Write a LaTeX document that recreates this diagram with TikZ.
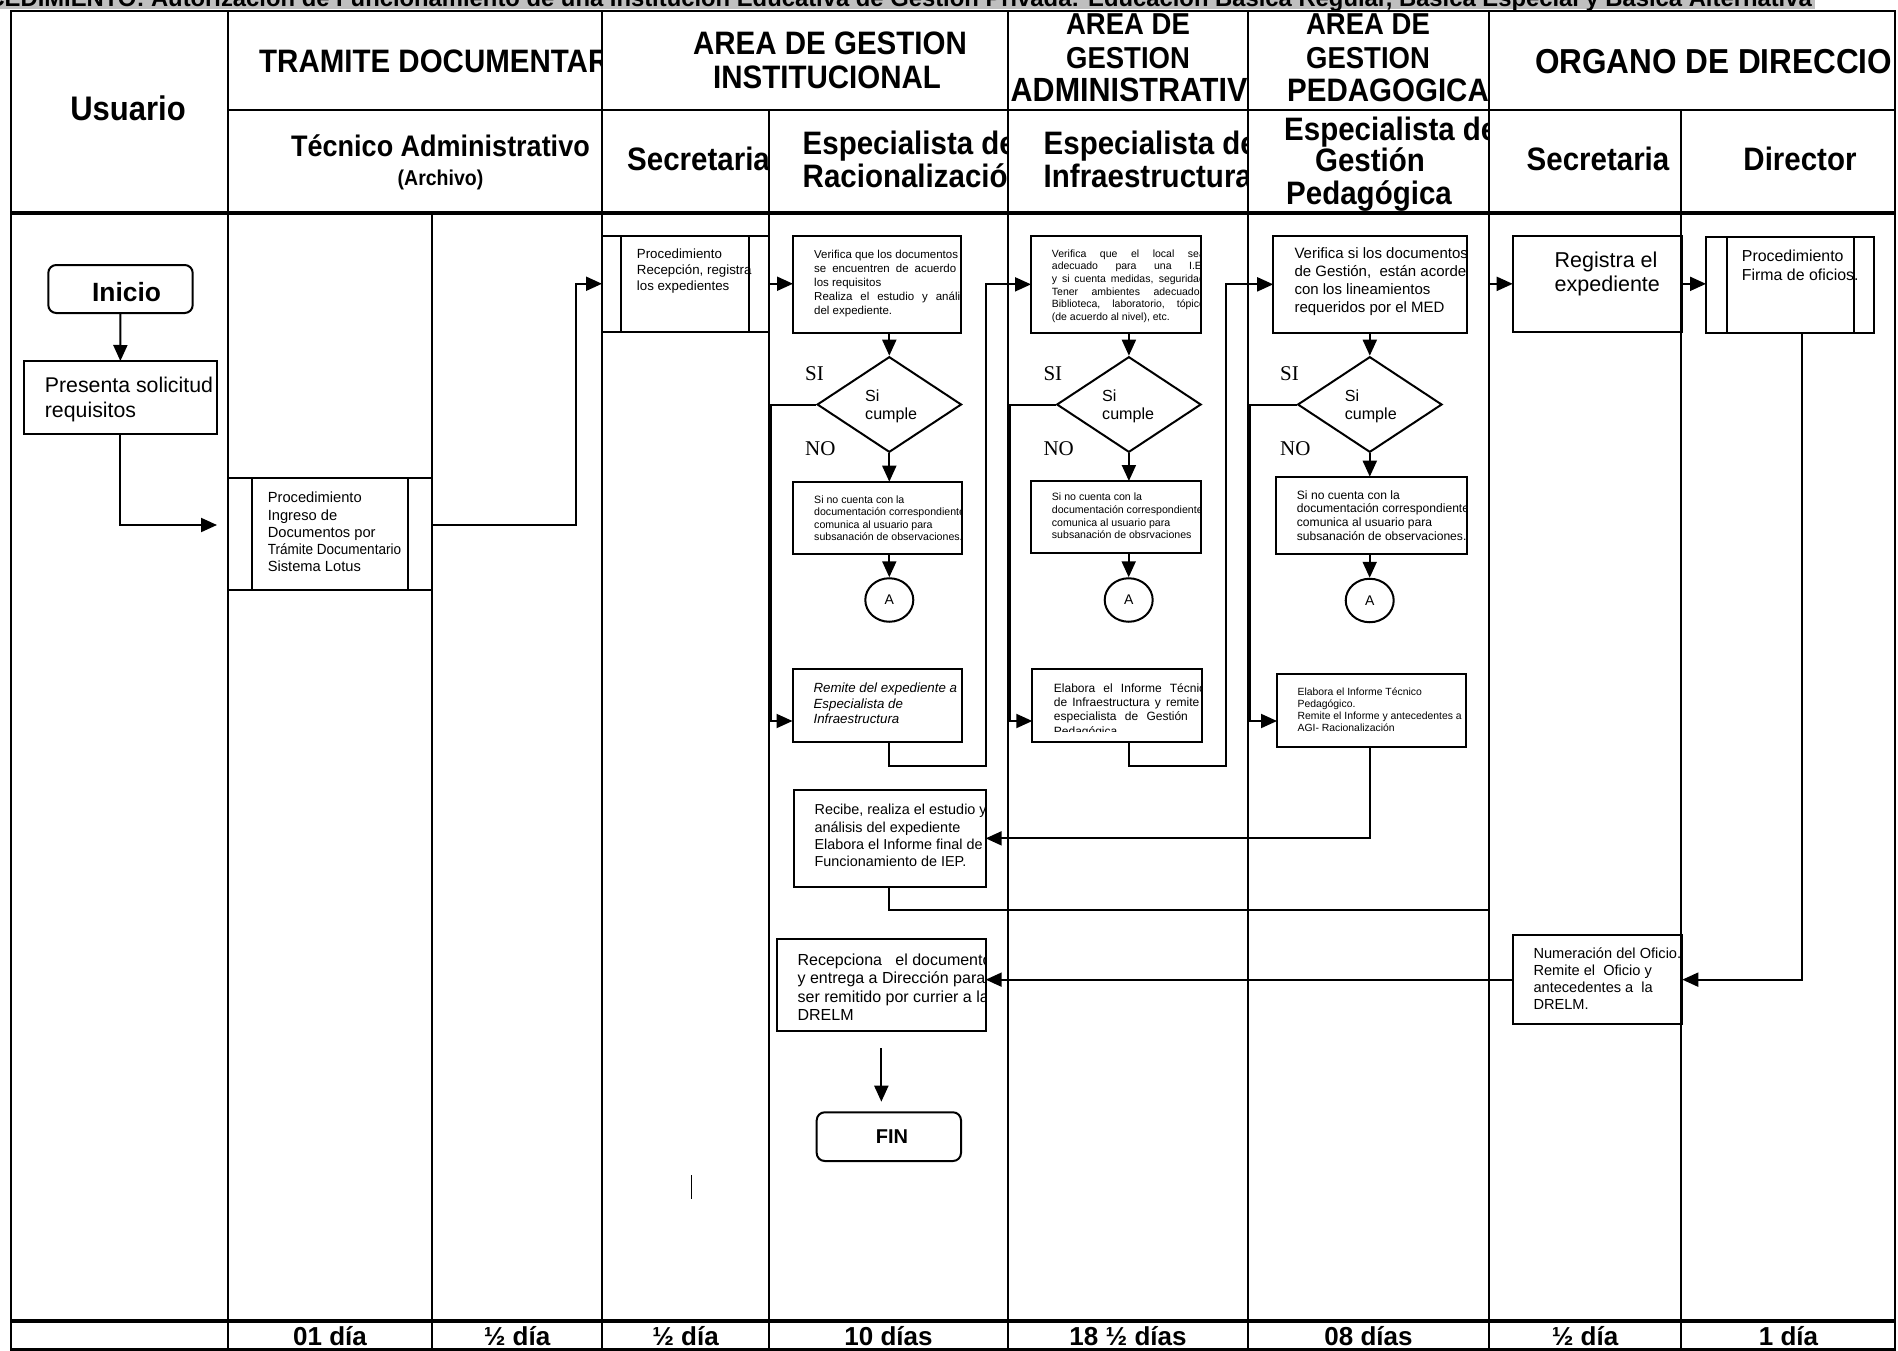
\documentclass[tikz,border=0pt]{standalone}
\usepackage{fontspec}
\usepackage{graphicx}
\setmainfont{Liberation Sans}
\newfontfamily\tnr{Liberation Serif}
\usetikzlibrary{arrows.meta,shapes.geometric}
\newcommand\fs[2]{\fontsize{#1pt}{#2pt}\selectfont}
\newcommand\nl{\\\strut}
\newcommand\tb[7][]{\node[tx,font={#1\fs{#5}{#6}}] (#2) at (#3,{#4-0.7*#6}) {\strut #7};}
\newcommand\jl[2]{\makebox[#1pt][s]{#2}}
\newcommand\hh[1]{\scalebox{1}[1.1]{#1}}
\newcommand\inbox[2]{\begin{scope}\clip (#1.south west) rectangle (#1.north east); #2\end{scope}}
\begin{document}
\begin{tikzpicture}[x=1pt,y=-1pt,
  tbl/.style={line width=2.2pt},
  tblk/.style={line width=3.6pt},
  box/.style={draw, rectangle, line width=2pt, inner sep=0pt, outer sep=0pt},
  rbox/.style={box, rounded corners=8pt},
  conn/.style={line width=2pt},
  arr/.style={line width=2pt, -{Triangle[length=16pt,width=14pt]}},
  tx/.style={anchor=north west, inner sep=0pt, align=left},
  hd/.style={inner sep=0pt, font=\bfseries\fs{29.5}{34}},
  lbl/.style={inner sep=0pt, font=\tnr\fs{21}{24}, anchor=base west},
  dmd/.style={diamond, draw, line width=2pt, minimum width=144.4, minimum height=95.6, inner sep=0pt},
  circA/.style={ellipse, draw, line width=2pt, minimum width=48, minimum height=43.5, inner sep=0pt, font=\fs{14}{16}},
  ftx/.style={inner sep=0pt, anchor=base, font=\bfseries\fs{26}{28}}]
\useasboundingbox (0,0) rectangle (1898,1351);
\fill[white] (0,0) rectangle (1898,1351);
% title band
\fill[gray!50] (0,0) rectangle (1815,9);
\begin{scope}\clip (0,0) rectangle (1898,1351);
\node[anchor=base east, inner sep=0pt, font=\bfseries\fs{23.8}{26}] (title) at (1812,6.5) {PROCEDIMIENTO: Autorización de Funcionamiento de una Institución Educativa de Gestión Privada: Educación Básica Regular, Básica Especial y Básica Alternativa};
\end{scope}
% table
\draw[tbl] (11,11) rectangle (1895,1349.5);
\foreach \x in {228,602,1008,1248,1489} \draw[tbl] (\x,11) -- (\x,1349.5);
\foreach \x in {769,1681} \draw[tbl] (\x,110) -- (\x,1349.5);
\draw[tbl] (432,213) -- (432,1349.5);
\draw[tbl] (228,110) -- (1895,110);
\draw[tblk] (11,213) -- (1895,213);
\draw[tblk] (11,1321) -- (1895,1321);
% header row 1
\node[hd, font=\bfseries\fs{31}{34}, anchor=base] (usuario) at (128,121) {\hh{Usuario}};
\begin{scope}\clip (228,11) rectangle (602,110);
\node[hd, anchor=base west] (h1) at (259,72.6) {\hh{TRAMITE DOCUMENTARIO}};
\end{scope}
\node[hd, anchor=base] (h2a) at (830,54.2) {\hh{AREA DE GESTION}};
\node[hd, anchor=base] (h2b) at (827,88.1) {\hh{INSTITUCIONAL}};
\begin{scope}\clip (1008,11) rectangle (1248,110);
\node[hd, font=\bfseries\fs{27.5}{34}, anchor=base] (h3a) at (1128,34.8) {\hh{AREA DE}};
\node[hd, font=\bfseries\fs{27.5}{34}, anchor=base] (h3b) at (1128,68.6) {\hh{GESTION}};
\node[hd, font=\bfseries\fs{30.5}{34}, anchor=base west] (h3c) at (1010.5,101.4) {\hh{ADMINISTRATIVO}};
\end{scope}
\begin{scope}\clip (1248,11) rectangle (1489,110);
\node[hd, font=\bfseries\fs{27.5}{34}, anchor=base] (h4a) at (1368,34.8) {\hh{AREA DE}};
\node[hd, font=\bfseries\fs{27.5}{34}, anchor=base] (h4b) at (1368,68.6) {\hh{GESTION}};
\node[hd, anchor=base west] (h4c) at (1287,101.4) {\hh{PEDAGOGICA}};
\end{scope}
\begin{scope}\clip (1489,11) rectangle (1895,110);
\node[hd, font=\bfseries\fs{31.5}{34}, anchor=base west] (h5) at (1535,73.6) {\hh{ORGANO DE DIRECCION}};
\end{scope}
% header row 2
\node[hd, font=\bfseries\fs{27}{30}, anchor=base] (tec) at (440.5,156.6) {\hh{Técnico Administrativo}};
\node[hd, font=\bfseries\fs{19.5}{26}, anchor=base] (arch) at (440.5,185.3) {\hh{(Archivo)}};
\begin{scope}\clip (602,110) rectangle (769,213);
\node[hd, anchor=base west] (sec1) at (627,170.7) {\hh{Secretaria}};
\end{scope}
\begin{scope}\clip (769,110) rectangle (1008,213);
\node[hd, anchor=base west] (er1) at (802.5,154.7) {\hh{Especialista de}};
\node[hd, anchor=base west] (er2) at (802.5,187.7) {\hh{Racionalización}};
\end{scope}
\begin{scope}\clip (1008,110) rectangle (1248,213);
\node[hd, anchor=base west] (ei1) at (1043.5,154.7) {\hh{Especialista de}};
\node[hd, anchor=base west] (ei2) at (1043.5,187.7) {\hh{Infraestructura}};
\end{scope}
\begin{scope}\clip (1248,110) rectangle (1489,213);
\node[hd, anchor=base west] (ep1) at (1284,140.4) {\hh{Especialista de}};
\node[hd, anchor=base] (ep2) at (1370,171.7) {\hh{Gestión}};
\node[hd, anchor=base] (ep3) at (1369,204.7) {\hh{Pedagógica}};
\end{scope}
\node[hd, anchor=base] (sec2) at (1598,170.7) {\hh{Secretaria}};
\node[hd, anchor=base] (dir) at (1800,170.7) {\hh{Director}};
% footer
\foreach \x/\t [count=\i] in {330/01 día, 517/½ día, 685.5/½ día, 888.5/10 días, 1128/18 ½ días, 1368.5/08 días, 1585/½ día, 1788.5/1 día}
  \node[ftx] (ft\i) at (\x,1345.9) {\t};
% ---- Usuario
\node[rbox, minimum width=144.4, minimum height=48] (inicio) at (120.5,289) {};
\node[inner sep=0pt, font=\bfseries\fs{26.4}{30}] (iniciot) at (126.6,291.7) {Inicio};
\node[box, minimum width=192.7, minimum height=73] (presenta) at (120.35,397.5) {};
\inbox{presenta}{\tb{presentat}{44.7}{392}{21.3}{25}{Presenta solicitud\nl requisitos}}
% ---- Tramite
\node[box, minimum width=204, minimum height=112] (ingreso) at (330,534.3) {};
\draw[conn] ([xshift=24pt]ingreso.north west) -- ([xshift=24pt]ingreso.south west);
\draw[conn] ([xshift=-24.5pt]ingreso.north east) -- ([xshift=-24.5pt]ingreso.south east);
\inbox{ingreso}{\tb{ingresot}{267.6}{502.6}{14.7}{17.25}{Procedimiento\nl Ingreso de\nl Documentos por\nl \scalebox{0.92}[1]{Trámite Documentario}\nl Sistema Lotus}}
% ---- Secretaria AGI
\node[box, minimum width=167, minimum height=95.5] (secproc) at (685.5,283.75) {};
\draw[conn] ([xshift=19pt]secproc.north west) -- ([xshift=19pt]secproc.south west);
\draw[conn] ([xshift=-20pt]secproc.north east) -- ([xshift=-20pt]secproc.south east);
\inbox{secproc}{\tb{secproct}{636.7}{258.7}{13.3}{16}{Procedimiento\nl Recepción, registra\nl los expedientes}}
% ---- Racionalizacion
\node[box, minimum width=168, minimum height=96.5] (ver1) at (877,284.25) {};
\inbox{ver1}{\tb{ver1t}{814}{258.1}{11.5}{14}{Verifica que los documentos\nl \jl{142}{se encuentren de acuerdo}\nl los requisitos\nl \jl{160}{Realiza el estudio y análisis}\nl del expediente.}}
\node[dmd] (dia1) at (889.3,404.5) {};
\tb{dia1t}{865}{401}{16.1}{18.6}{Si\nl cumple}
\node[lbl] (si1) at (805,380.9) {SI};
\node[lbl] (no1) at (805,455.3) {NO};
\node[box, minimum width=168.7, minimum height=72.6] (sino1) at (877.6,518) {};
\inbox{sino1}{\tb{sino1t}{814}{502.8}{10.6}{12.5}{Si no cuenta con la\nl documentación correspondiente\nl comunica al usuario para\nl subsanación de observaciones.}}
\node[circA] (a1) at (889.3,600) {A};
\node[box, minimum width=169, minimum height=72.7] (remite) at (877,705.35) {};
\inbox{remite}{\tb[\itshape]{remitet}{813.4}{692.7}{13.3}{15.3}{Remite del expediente a\nl Especialista de\nl Infraestructura}}
\node[box, minimum width=191.7, minimum height=96.7] (recibe) at (889.85,838.35) {};
\inbox{recibe}{\tb{recibet}{814.4}{814.75}{14.4}{17.2}{Recibe, realiza el estudio y\nl análisis del expediente\nl Elabora el Informe final de\nl Funcionamiento de IEP.}}
\node[box, minimum width=208.7, minimum height=91.7] (recep) at (881.35,985.15) {};
\inbox{recep}{\tb{recept}{797.4}{965.3}{16}{18.3}{Recepciona~~~el documento\nl y entrega a Dirección para\nl ser remitido por currier a la\nl DRELM}}
\node[rbox, minimum width=144.3, minimum height=48.7] (fin) at (888.85,1136.65) {};
\node[inner sep=0pt, font=\bfseries\fs{20}{24}] (fint) at (892,1136.7) {FIN};
\draw[line width=1.5pt] (691.7,1175) -- (691.7,1199.3);
% ---- Infraestructura
\node[box, minimum width=170, minimum height=96.7] (ver2) at (1116,284.35) {};
\inbox{ver2}{\tb{ver2t}{1051.7}{256.8}{10.5}{12.7}{\jl{153}{Verifica que el local sea}\nl \jl{153}{adecuado para una I.E.}\nl \jl{153}{y si cuenta medidas, seguridad}\nl \jl{153}{Tener ambientes adecuados}\nl \jl{153}{Biblioteca, laboratorio, tópico}\nl (de acuerdo al nivel), etc.}}
\node[dmd] (dia2) at (1128.9,404.5) {};
\tb{dia2t}{1102}{401}{16.1}{18.6}{Si\nl cumple}
\node[lbl] (si2) at (1043.3,380.9) {SI};
\node[lbl] (no2) at (1043.3,455.3) {NO};
\node[box, minimum width=170, minimum height=72.3] (sino2) at (1116,517.15) {};
\inbox{sino2}{\tb{sino2t}{1051.7}{500.2}{10.6}{12.8}{Si no cuenta con la\nl documentación correspondiente\nl comunica al usuario para\nl subsanación de obsrvaciones}}
\node[circA] (a2) at (1128.7,600) {A};
\node[box, minimum width=169.4, minimum height=72.7] (elab2) at (1117,705.35) {};
\begin{scope}\clip (elab2.north west) rectangle ([yshift=10pt]elab2.south east);
\tb{elab2t}{1053.7}{692}{12}{14.3}{\jl{158}{Elabora el Informe Técnico}\nl \jl{160}{de Infraestructura y remite al}\nl \jl{134}{especialista de Gestión}\nl Pedagógica}
\end{scope}
% ---- Pedagogica
\node[box, minimum width=193.8, minimum height=96.7] (ver3) at (1370.1,284.35) {};
\inbox{ver3}{\tb{ver3t}{1294.3}{258.2}{15}{18}{Verifica si los documentos\nl de Gestión,~ están acordes\nl con los lineamientos\nl requeridos por el MED}}
\node[dmd] (dia3) at (1369.8,404.5) {};
\tb{dia3t}{1344.6}{401}{16.1}{18.6}{Si\nl cumple}
\node[lbl] (si3) at (1279.9,380.9) {SI};
\node[lbl] (no3) at (1279.9,455.3) {NO};
\node[box, minimum width=191.2, minimum height=77.6] (sino3) at (1371.5,515.5) {};
\inbox{sino3}{\tb{sino3t}{1296.7}{499}{12.1}{13.7}{Si no cuenta con la\nl documentación correspondiente\nl comunica al usuario para\nl subsanación de observaciones.}}
\node[circA] (a3) at (1369.7,600.5) {A};
\node[box, minimum width=189.3, minimum height=72.4] (elab3) at (1371.65,710.5) {};
\inbox{elab3}{\tb{elab3t}{1297.4}{695.1}{10.4}{12.2}{Elabora el Informe Técnico\nl Pedagógico.\nl Remite el Informe y antecedentes a\nl AGI- Racionalización}}
% ---- Organo de direccion
\node[box, minimum width=169, minimum height=95.7] (registra) at (1597.2,283.85) {};
\inbox{registra}{\tb{registrat}{1554.5}{267.1}{21.5}{24}{Registra el\nl expediente}}
\node[box, minimum width=168.3, minimum height=96.6] (firma) at (1790.15,285) {};
\draw[conn] ([xshift=20.6pt]firma.north west) -- ([xshift=20.6pt]firma.south west);
\draw[conn] ([xshift=-20.3pt]firma.north east) -- ([xshift=-20.3pt]firma.south east);
\inbox{firma}{\tb{firmat}{1741.7}{261.2}{15.9}{19}{Procedimiento\nl Firma de oficios.}}
\node[box, minimum width=169.6, minimum height=89.3] (numer) at (1597.5,979.65) {};
\inbox{numer}{\tb{numert}{1533.3}{958.1}{14.6}{17.2}{Numeración del Oficio.\nl Remite el~ Oficio y\nl antecedentes a~ la\nl DRELM.}}
% ---- connectors
\coordinate (c1) at (217,525);
\coordinate (c2) at (576.3,525);
\draw[arr] (inicio.south) -- (presenta.north);
\draw[arr] (presenta.south) |- (c1);
\draw[arr] (ingreso.east |- c1) -- (c2) |- (secproc.west);
\draw[arr] (secproc.east) -- (secproc.east -| ver1.west);
\draw[arr] (ver1.south -| dia1.north) -- (dia1.north);
\draw[arr] (dia1.south) -- (sino1.north -| dia1.south);
\draw[arr] (sino1.south -| a1.north) -- (a1.north);
\coordinate (k1) at (771,721);
\draw[arr] (dia1.west) -| (k1) -- (remite.west |- k1);
\coordinate (k2) at (985.7,765.7);
\draw[arr] (remite.south -| dia1.south) |- (k2) |- (ver2.west);
\draw[arr] (ver2.south -| dia2.north) -- (dia2.north);
\draw[arr] (dia2.south) -- (sino2.north -| dia2.south);
\draw[arr] (sino2.south -| a2.north) -- (a2.north);
\coordinate (k4) at (1009.5,721);
\draw[arr] (dia2.west) -| (k4) -- (elab2.west |- k4);
\coordinate (k3) at (1226,765.7);
\draw[arr] (elab2.south -| dia2.south) |- (k3) |- (ver3.west);
\draw[arr] (ver3.south -| dia3.north) -- (dia3.north);
\draw[arr] (dia3.south) -- (sino3.north -| dia3.south);
\draw[arr] (sino3.south -| a3.north) -- (a3.north);
\coordinate (k5) at (1250,721);
\draw[arr] (dia3.west) -| (k5) -- (elab3.west |- k5);
\draw[arr] (elab3.south -| dia3.south) |- (recibe.east);
\coordinate (k6) at (1489,910);
\draw[arr] (recibe.south -| dia1.south) |- (k6) |- (registra.west);
\draw[arr] (registra.east) -- (registra.east -| firma.west);
\coordinate (k7) at (1801.7,0);
\draw[arr] (firma.south -| k7) |- (numer.east);
\draw[arr] (numer.west) -- (numer.west -| recep.east);
\coordinate (k8) at (881.35,1048.3);
\coordinate (k9) at (881.35,1101.7);
\draw[arr] (k8) -- (k9);
\end{tikzpicture}
\end{document}
